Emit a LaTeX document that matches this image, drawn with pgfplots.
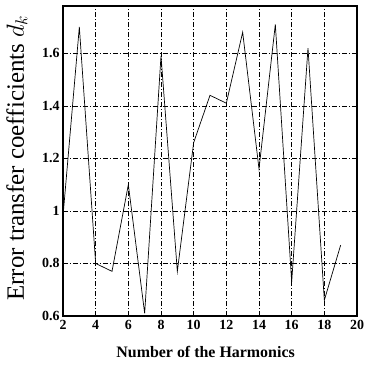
\documentclass[border=0pt]{standalone}
\usepackage{pgfplots}
\pgfplotsset{compat=1.18}
\usepackage{fontspec}
\setmainfont{Liberation Serif}
\begin{document}
\begin{tikzpicture}
\begin{axis}[
  scale only axis,
  width=294bp, height=310bp,
  xmin=2, xmax=20, ymin=0.6, ymax=1.78,
  xtick={2,4,...,20},
  xticklabels={\textbf{2},\textbf{4},\textbf{6},\textbf{8},\textbf{10},\textbf{12},\textbf{14},\textbf{16},\textbf{18},\textbf{20}},
  ytick={0.6,0.8,1,1.2,1.4,1.6},
  yticklabels={\textbf{0.6},\textbf{0.8},\textbf{1},\textbf{1.2},\textbf{1.4},\textbf{1.6}},
  major tick length=0pt,
  grid=major,
  major grid style={black, line width=0.6pt, dash pattern=on 5pt off 2pt on 1pt off 2pt},
  axis line style={line width=1.3pt},
  tick label style={font=\fontsize{14}{14}\selectfont\bfseries},
  xticklabel style={yshift=-1bp},
  xlabel={Number of the Harmonics},
  ylabel={Error transfer coefficients $d_k$},
  xlabel style={font=\fontsize{16}{16}\selectfont\bfseries, at={(axis description cs:0.485,-0.116)}, anchor=center},
  ylabel style={font=\fontsize{25}{25}\selectfont, at={(axis description cs:-0.157,0.51)}, anchor=center},
]
\addplot[black, line width=0.7pt] coordinates {
  (2,0.98) (3,1.70) (4,0.80) (5,0.77) (6,1.10) (7,0.61) (8,1.59) (9,0.77)
  (10,1.26) (11,1.44) (12,1.41) (13,1.68) (14,1.16) (15,1.71) (16,0.73)
  (17,1.62) (18,0.66) (19,0.87)
};
\end{axis}
\pgfresetboundingbox
\path[use as bounding box] (-63bp,-49bp) rectangle (303bp,316bp);
\end{tikzpicture}
\end{document}
